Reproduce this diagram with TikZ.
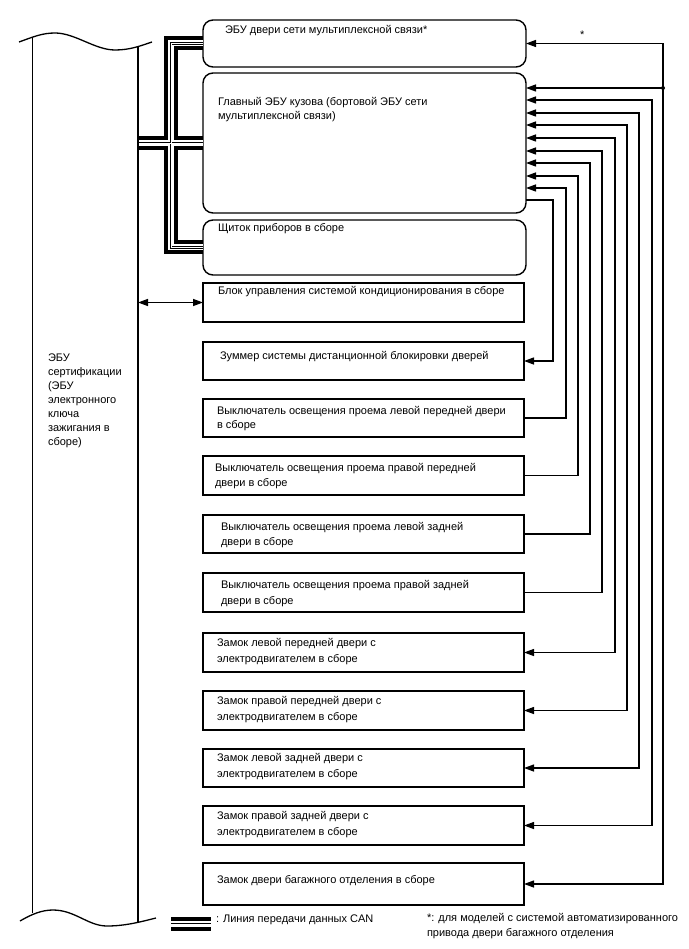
\documentclass[tikz,border=0pt]{standalone}
\usepackage{fontspec}
\setmainfont{Liberation Sans}
\usetikzlibrary{arrows.meta,calc}
\newcommand\mybuslines[1]{%
  \draw[#1] (b1.west) -- (b1.west -| 171,0) -- (b3.west -| 171,0) -- (b3.west);
  \draw[#1] (lb.east |- b2.west) -- (b2.west);
  \draw[#1] (lg1) -- (lg2);
}
\begin{document}
\begin{tikzpicture}[x=1pt,y=-1pt,
  every node/.style={inner sep=0pt, outer sep=0pt},
  rbox/.style={draw, line width=1.4pt, rounded corners=10pt, minimum width=323pt, anchor=north west},
  sbox/.style={draw, line width=1.5pt, minimum width=321pt, anchor=north west},
  txt/.style={anchor=north west, align=left, yshift=7.5pt, font={\fontsize{11}{#1}\selectfont}, execute at begin node={\rule{0pt}{9.5pt}}},
  txt/.default=14,
  conn/.style={line width=1.3pt},
  arr/.style={conn, -{Triangle[length=10pt,width=7pt]}},
  darr/.style={conn, {Triangle[length=10pt,width=7pt]}-{Triangle[length=10pt,width=7pt]}},
  wave/.style={line width=1.3pt}
]
\useasboundingbox (0,0) rectangle (688,949);
\fill[white] (0,0) rectangle (688,949);

% invisible anchor for the left ECU column
\node[minimum width=105.5pt, minimum height=860pt, anchor=north west] (lb) at (32.5,50) {};
% legend bus end points
\coordinate (lg1) at (171,924);
\coordinate (lg2) at (211,924);

% boxes
\node[rbox, minimum height=47pt]  (b1) at (203,20) {};
\node[rbox, minimum height=140pt] (b2) at (203,73) {};
\node[rbox, minimum height=55pt]  (b3) at (203,220) {};
\node[sbox, minimum height=39pt]  (b4) at (203,283) {};
\node[sbox, minimum height=38pt]  (b5) at (203,342) {};
\node[sbox, minimum height=38pt]  (b6) at (203,399) {};
\node[sbox, minimum height=39pt]  (b7) at (203,456) {};
\node[sbox, minimum height=38pt]  (b8) at (203,515) {};
\node[sbox, minimum height=39pt]  (b9) at (203,573) {};
\node[sbox, minimum height=39pt]  (b10) at (203,633) {};
\node[sbox, minimum height=39pt]  (b11) at (203,691) {};
\node[sbox, minimum height=38pt]  (b12) at (203,749) {};
\node[sbox, minimum height=39pt]  (b13) at (203,806) {};
\node[sbox, minimum height=42pt]  (b14) at (203,863) {};

% CAN bus (layered double line)
\mybuslines{line width=14pt, black, line join=miter}
\mybuslines{line width=6pt, white, line join=miter}
\mybuslines{line width=2.8pt, black, line join=miter}
\mybuslines{line width=0.9pt, white, line join=miter}

% left ECU column
\draw[wave] (32.5,38) -- (32.5,913);
\draw[wave] (138,47) -- (138,922);
\draw[wave] (19,42) .. controls (33,37) and (42,33) .. (55,33) .. controls (75,33) and (95,50) .. (115,50) .. controls (130,50) and (140,46) .. (152,42);
\draw[wave] (20,921) .. controls (32,914) and (42,910) .. (53,910) .. controls (75,910) and (88,926) .. (107,926) .. controls (125,926) and (140,922) .. (156,918);

% texts
\node[txt] (tl) at (48,361.5) {\fontsize{11}{13.5}\selectfont ЭБУ\\сертификации\\(ЭБУ\\электронного\\ключа\\зажигания в\\сборе)};
\node[txt] (t1) at (225,31.5) {ЭБУ двери сети мультиплексной связи*};
\node[txt] (t2) at (218,105) {Главный ЭБУ кузова (бортовой ЭБУ сети\\мультиплексной связи)};
\node[txt] (t3) at (218,230) {Щиток приборов в сборе};
\node[txt] (t4) at (218,292.5) {Блок управления системой кондиционирования в сборе};
\node[txt] (t5) at (220,357.5) {Зуммер системы дистанционной блокировки дверей};
\node[txt=14] (t6) at (217,413.5) {Выключатель освещения проема левой передней двери\\в сборе};
\node[txt=15] (t7) at (215,471) {Выключатель освещения проема правой передней\\двери в сборе};
\node[txt=15.5] (t8) at (221,529.5) {Выключатель освещения проема левой задней\\двери в сборе};
\node[txt=16] (t9) at (221,587.5) {Выключатель освещения проема правой задней\\двери в сборе};
\node[txt=16] (t10) at (217,646) {Замок левой передней двери с\\электродвигателем в сборе};
\node[txt=16] (t11) at (217,704) {Замок правой передней двери с\\электродвигателем в сборе};
\node[txt=16] (t12) at (217,761) {Замок левой задней двери с\\электродвигателем в сборе};
\node[txt=16] (t13) at (217,819) {Замок правой задней двери с\\электродвигателем в сборе};
\node[txt] (t14) at (217,881) {Замок двери багажного отделения в сборе};
\node[txt] (tleg) at (216,920) {: Линия передачи данных CAN};
\node[txt=15] (tfn) at (427,921) {*: для моделей с системой автоматизированного\\привода двери багажного отделения};
\node[txt] (tast) at (580,37) {*};

% left double arrow to AC unit
\draw[darr] (lb.east |- b4.west) -- (b4.west);

% trunk / door ECU line
\coordinate (j1) at (663,88);
\draw[darr] (b1.east) -| (b14.east -| 663,0) -- (b14.east);
\draw[arr] (j1) -- (b2.east |- j1);
\fill (j1) circle (2pt);

% door lock motors (bidirectional)
\draw[darr] (b2.east |- 0,100) -| (b13.east -| 652,0) -- (b13.east);
\draw[darr] (b2.east |- 0,113) -| (b12.east -| 639,0) -- (b12.east);
\draw[darr] (b2.east |- 0,125) -| (b11.east -| 627,0) -- (b11.east);
\draw[darr] (b2.east |- 0,138) -| (b10.east -| 615,0) -- (b10.east);

% courtesy switches
\draw[arr] (b9.east) -| (602,151) -- (b2.east |- 0,151);
\draw[arr] (b8.east) -| (590,163) -- (b2.east |- 0,163);
\draw[arr] (b7.east) -| (578,176) -- (b2.east |- 0,176);
\draw[arr] (b6.east) -| (566,188) -- (b2.east |- 0,188);

% buzzer
\draw[arr] (b2.east |- 0,200) -| (b5.east -| 553,0) -- (b5.east);
\end{tikzpicture}
\end{document}
